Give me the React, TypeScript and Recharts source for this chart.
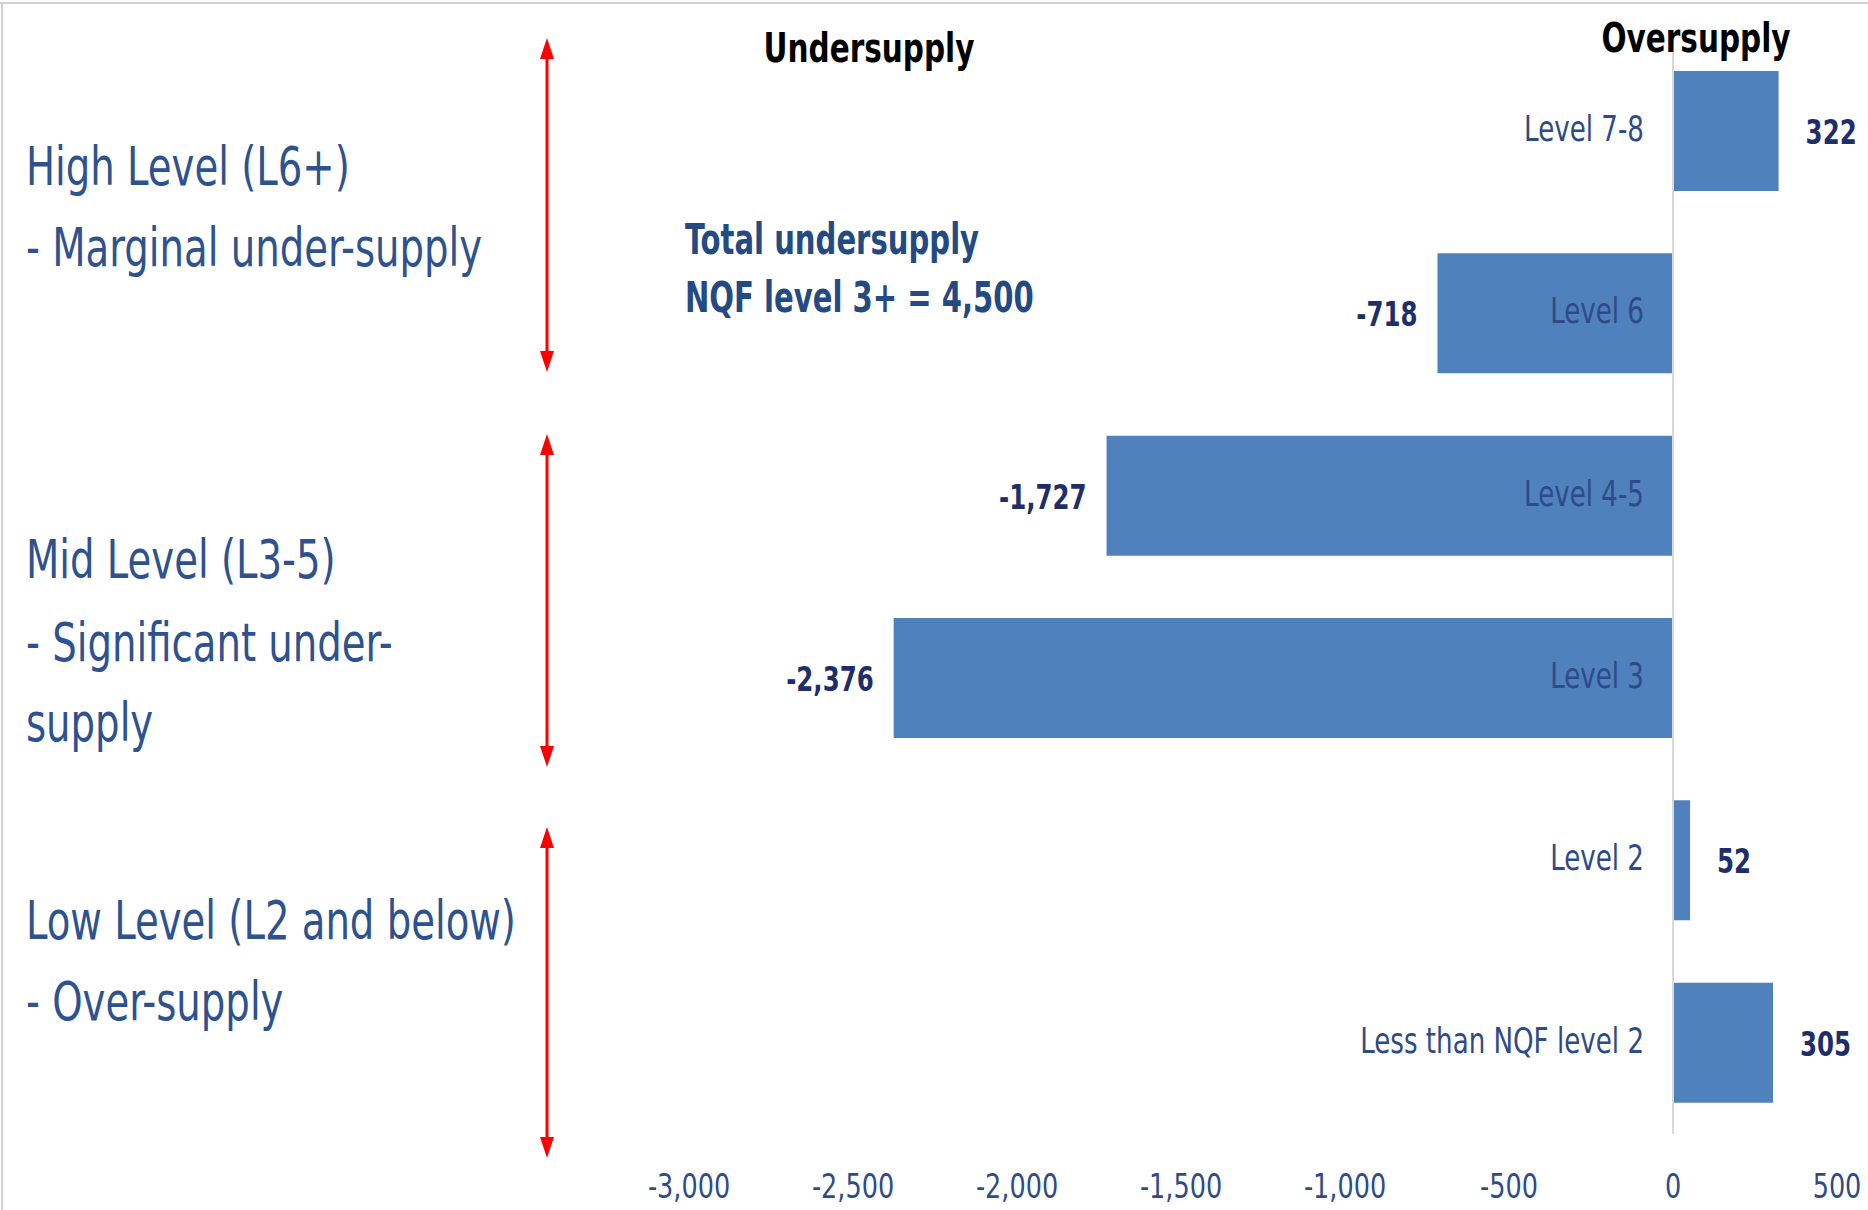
import { BarChart, Bar, XAxis, YAxis, ReferenceLine, LabelList } from 'recharts'

const categories = ['Level 7-8', 'Level 6', 'Level 4-5', 'Level 3', 'Level 2', 'Less than NQF level 2']
const supplyGap = [322, -718, -1727, -2376, 52, 305]
const xTicks = [-3000, -2500, -2000, -1500, -1000, -500, 0, 500]

const groupNotes = [
  ['High Level (L6+)', '- Marginal under-supply'],
  ['Mid Level (L3-5)', '- Significant under-', 'supply'],
  ['Low Level (L2 and below)', '- Over-supply'],
]
const totalNote = ['Total undersupply', 'NQF level 3+ = 4,500']

const data = categories.map((name, i) => ({ name, value: supplyGap[i] }))

// no Calibri here, so squeeze the condensed sans horizontally to get the tall narrow look
const FONT = "'DejaVu Sans Condensed', 'DejaVu Sans', sans-serif"
const fmt = (v: number) => v.toLocaleString('en-US')

function SText({ x, y, sx, children, ...rest }: any) {
  return (
    <text transform={`translate(${x},${y}) scale(${sx},1)`} x={0} y={0} fontFamily={FONT} {...rest}>
      {children}
    </text>
  )
}

function barEnds(props: any) {
  const { x, width } = props
  return { left: Math.min(x, x + width), right: Math.max(x, x + width) }
}

function CategoryLabel(props: any) {
  const { y, height, index } = props
  const { left, right } = barEnds(props)
  const zero = supplyGap[index] >= 0 ? left : right
  return (
    <SText x={zero - 29} y={y + height / 2 + 10} sx={0.83} textAnchor="end" fontSize={35} fill="#2f4b87">
      {categories[index]}
    </SText>
  )
}

function ValueLabel(props: any) {
  const { y, height, value } = props
  const { left, right } = barEnds(props)
  const pos = value >= 0
  return (
    <SText x={pos ? right + 27 : left - 20} y={y + height / 2 + 13} sx={0.8} textAnchor={pos ? 'start' : 'end'}
      fontSize={34} fontWeight="bold" fill="#1f2e6b">
      {fmt(value)}
    </SText>
  )
}

function XTick(props: any) {
  const { x, y, payload } = props
  return (
    <SText x={x} y={y + 22} sx={0.86} textAnchor="middle" fontSize={33} fill="#2f4b87">
      {fmt(payload.value)}
    </SText>
  )
}

function Arrow({ x, y1, y2 }: { x: number; y1: number; y2: number }) {
  return (
    <g>
      <line x1={x} x2={x} y1={y1 + 18} y2={y2 - 18} stroke="#ff0000" strokeWidth={3} />
      <polygon points={`${x},${y1} ${x - 7},${y1 + 21} ${x + 7},${y1 + 21}`} fill="#ff0000" />
      <polygon points={`${x},${y2} ${x - 7},${y2 - 21} ${x + 7},${y2 - 21}`} fill="#ff0000" />
    </g>
  )
}

export default function App() {
  const noteBaselines = [[185, 266], [578, 661, 741], [939, 1020]]
  return (
    <div style={{ position: 'absolute', left: 0, top: 0, width: 1868, height: 1210, background: '#fff' }}>
      <BarChart width={1868} height={1210} data={data} layout="vertical"
        margin={{ top: 40, right: 31, left: 689, bottom: 16 }}>
        <XAxis type="number" domain={[-3000, 500]} ticks={xTicks} allowDataOverflow
          axisLine={false} tickLine={false} tickSize={6} tickMargin={36} height={60}
          tick={<XTick />} />
        <YAxis type="category" dataKey="name" hide />
        <ReferenceLine x={0} stroke="#d9d9d9" strokeWidth={2} />
        <Bar dataKey="value" fill="#4f81bd" barSize={120} isAnimationActive={false}>
          <LabelList dataKey="name" content={CategoryLabel} />
          <LabelList dataKey="value" content={ValueLabel} />
        </Bar>
      </BarChart>
      <svg width={1868} height={1210} style={{ position: 'absolute', left: 0, top: 0, pointerEvents: 'none' }}>
        <line x1={0} x2={1868} y1={3} y2={3} stroke="#d0d0d0" strokeWidth={2} />
        <line x1={2} x2={2} y1={3} y2={1210} stroke="#d0d0d0" strokeWidth={2} />
        {groupNotes.map((lines, g) =>
          lines.map((t, i) => (
            <SText key={`${g}-${i}`} x={26} y={noteBaselines[g][i]} sx={0.81} fontSize={53} fill="#2e528f">
              {t}
            </SText>
          ))
        )}
        <Arrow x={547} y1={38} y2={372} />
        <Arrow x={547} y1={434} y2={767} />
        <Arrow x={547} y1={827} y2={1158} />
        <SText x={869} y={62} sx={0.8} textAnchor="middle" fontSize={41} fontWeight="bold" fill="#000">
          Undersupply
        </SText>
        <SText x={1696} y={52} sx={0.8} textAnchor="middle" fontSize={41} fontWeight="bold" fill="#000">
          Oversupply
        </SText>
        <SText x={685} y={254} sx={0.77} fontSize={42} fontWeight="bold" fill="#244a84">{totalNote[0]}</SText>
        <SText x={685} y={312} sx={0.77} fontSize={42} fontWeight="bold" fill="#244a84">{totalNote[1]}</SText>
      </svg>
    </div>
  )
}
